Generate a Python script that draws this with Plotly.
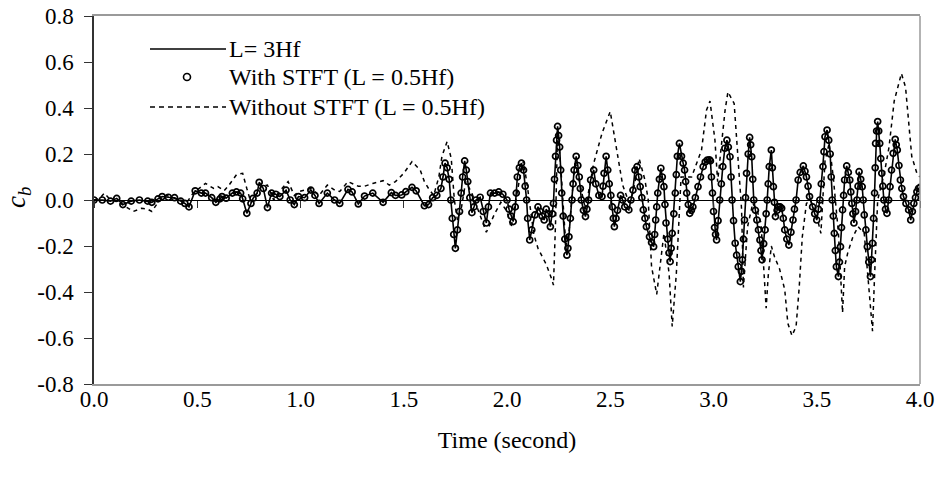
import plotly.graph_objects as go

# ---- data: (time s, c_b) ----
ref_quiet = [
    (0.00, 0.0), (0.04, 0.0), (0.08, -0.005), (0.11, 0.007), (0.14, -0.02), (0.18, -0.005), (0.22, 0.0),
    (0.26, -0.005), (0.28, -0.01), (0.31, 0.005), (0.33, 0.015), (0.36, 0.012), (0.39, 0.01), (0.42, -0.005),
    (0.44, -0.015), (0.46, -0.03), (0.49, 0.04), (0.52, 0.03), (0.54, 0.03), (0.57, 0.01), (0.59, -0.01),
    (0.61, 0.005), (0.62, 0.015), (0.64, 0.008), (0.67, 0.03), (0.69, 0.035), (0.71, 0.03), (0.72, 0.005),
    (0.74, -0.058), (0.76, -0.015), (0.77, 0.007), (0.79, 0.03), (0.80, 0.077), (0.82, 0.05), (0.84, -0.033),
    (0.86, 0.03), (0.88, 0.025), (0.90, 0.015), (0.93, 0.043), (0.95, 0.0), (0.97, -0.02), (0.99, 0.015),
    (1.02, 0.01), (1.05, 0.043), (1.07, 0.02), (1.09, -0.015), (1.13, 0.03), (1.165, 0.0), (1.19, -0.015),
    (1.23, 0.046), (1.25, 0.035), (1.28, -0.017), (1.31, 0.017), (1.35, 0.03), (1.40, -0.01), (1.44, 0.032),
    (1.46, 0.02), (1.49, 0.022), (1.51, 0.036), (1.54, 0.055), (1.56, 0.04), (1.60, -0.025), (1.62, -0.02),
    (1.64, 0.01),
]
ref_active = [
    (1.66, 0.02), (1.68, 0.05), (1.69, 0.10), (1.70, 0.16), (1.71, 0.14), (1.72, 0.09), (1.728, 0.0),
    (1.735, -0.08), (1.742, -0.15), (1.75, -0.21), (1.76, -0.13), (1.77, -0.05), (1.778, 0.03), (1.785, 0.10),
    (1.795, 0.17), (1.803, 0.13), (1.81, 0.08), (1.82, 0.01), (1.83, -0.055), (1.84, -0.03), (1.85, 0.0),
    (1.87, 0.012), (1.885, -0.05), (1.90, -0.10), (1.91, -0.03), (1.92, 0.03), (1.94, 0.03), (1.96, 0.035),
    (1.98, 0.025), (2.00, 0.0), (2.01, -0.04), (2.02, -0.07), (2.03, -0.094), (2.04, -0.03), (2.045, 0.03),
    (2.05, 0.10), (2.06, 0.14), (2.07, 0.16), (2.08, 0.13), (2.088, 0.06), (2.095, 0.0), (2.10, -0.08),
    (2.11, -0.174), (2.12, -0.13), (2.135, -0.065), (2.15, -0.03), (2.16, -0.05), (2.17, -0.07), (2.18, -0.087),
    (2.19, -0.04), (2.20, -0.06), (2.21, -0.116), (2.22, -0.06), (2.225, -0.015), (2.23, 0.09), (2.235, 0.19),
    (2.24, 0.26), (2.245, 0.32), (2.25, 0.28), (2.255, 0.23), (2.26, 0.13), (2.265, 0.03), (2.272, -0.07),
    (2.28, -0.17), (2.29, -0.24), (2.295, -0.21), (2.30, -0.16), (2.307, -0.08), (2.315, 0.0), (2.32, 0.07),
    (2.325, 0.13), (2.335, 0.19), (2.343, 0.15), (2.35, 0.10), (2.355, 0.05), (2.36, 0.0), (2.37, -0.045),
    (2.38, -0.072), (2.387, -0.04), (2.395, 0.0), (2.405, 0.087), (2.42, 0.13), (2.43, 0.07), (2.445, 0.02),
    (2.46, 0.015), (2.465, 0.06), (2.47, 0.116), (2.48, 0.19), (2.488, 0.13), (2.495, 0.07), (2.503, 0.02),
    (2.51, -0.03), (2.515, -0.08), (2.52, -0.116), (2.528, -0.08), (2.535, -0.045), (2.55, 0.02), (2.56, 0.0),
    (2.57, -0.03), (2.59, -0.043), (2.60, 0.0), (2.61, 0.043), (2.62, 0.13), (2.63, 0.145), (2.638, 0.10),
    (2.645, 0.058), (2.653, 0.01), (2.66, -0.043), (2.668, -0.08), (2.675, -0.116), (2.69, -0.16), (2.70, -0.185),
    (2.71, -0.203), (2.715, -0.15), (2.72, -0.087), (2.725, -0.03), (2.73, 0.03), (2.738, 0.09), (2.745, 0.138),
    (2.752, 0.10), (2.76, 0.058), (2.765, -0.02), (2.77, -0.10), (2.778, -0.17), (2.785, -0.23), (2.79, -0.268),
    (2.795, -0.21), (2.80, -0.145), (2.808, -0.06), (2.815, 0.03), (2.82, 0.11), (2.825, 0.19), (2.835, 0.246),
    (2.845, 0.19), (2.853, 0.16), (2.86, 0.13), (2.865, 0.08), (2.87, 0.03), (2.878, -0.02), (2.885, -0.058),
    (2.893, -0.045), (2.90, -0.03), (2.912, 0.01), (2.925, 0.058), (2.937, 0.10), (2.95, 0.145), (2.96, 0.165),
    (2.97, 0.174), (2.98, 0.175), (2.985, 0.17), (2.99, 0.10), (2.995, 0.03), (3.00, -0.05), (3.005, -0.12),
    (3.01, -0.15), (3.015, -0.174), (3.022, -0.09), (3.03, 0.0), (3.038, 0.07), (3.045, 0.145), (3.055, 0.225),
    (3.065, 0.26), (3.072, 0.23), (3.08, 0.188), (3.085, 0.10), (3.09, 0.0), (3.097, -0.09), (3.105, -0.188),
    (3.112, -0.24), (3.12, -0.29), (3.13, -0.355), (3.135, -0.31), (3.14, -0.26), (3.145, -0.17), (3.15, -0.087),
    (3.155, 0.01), (3.16, 0.116), (3.168, 0.20), (3.175, 0.272), (3.18, 0.24), (3.185, 0.188), (3.19, 0.09),
    (3.195, 0.0), (3.203, -0.045), (3.21, -0.087), (3.218, -0.13), (3.225, -0.174), (3.23, -0.22), (3.235, -0.26),
    (3.243, -0.19), (3.25, -0.13), (3.255, -0.06), (3.26, 0.0), (3.265, 0.07), (3.27, 0.145), (3.28, 0.217),
    (3.285, 0.14), (3.29, 0.058), (3.295, -0.01), (3.30, -0.072), (3.308, -0.045), (3.315, -0.03), (3.323, -0.03),
    (3.33, -0.036), (3.338, -0.08), (3.345, -0.13), (3.355, -0.17), (3.365, -0.196), (3.375, -0.14), (3.385, -0.087),
    (3.392, -0.04), (3.40, 0.0), (3.41, 0.087), (3.42, 0.12), (3.435, 0.148), (3.443, 0.125), (3.45, 0.10),
    (3.458, 0.06), (3.465, 0.015), (3.48, -0.03), (3.49, -0.06), (3.50, -0.087), (3.508, -0.04), (3.515, 0.0),
    (3.522, 0.07), (3.53, 0.145), (3.535, 0.21), (3.54, 0.275), (3.55, 0.304), (3.558, 0.26), (3.565, 0.20),
    (3.57, 0.10), (3.575, 0.0), (3.58, -0.07), (3.585, -0.145), (3.59, -0.22), (3.595, -0.29), (3.605, -0.333),
    (3.61, -0.27), (3.615, -0.203), (3.62, -0.12), (3.625, -0.043), (3.63, 0.02), (3.635, 0.087), (3.645, 0.148),
    (3.653, 0.12), (3.66, 0.087), (3.665, 0.035), (3.67, -0.015), (3.675, -0.06), (3.68, -0.10), (3.688, -0.05),
    (3.695, 0.0), (3.70, 0.06), (3.705, 0.123), (3.713, 0.09), (3.72, 0.058), (3.725, 0.0), (3.73, -0.065),
    (3.738, -0.13), (3.745, -0.203), (3.752, -0.27), (3.76, -0.333), (3.765, -0.26), (3.77, -0.188), (3.775, -0.08),
    (3.78, 0.03), (3.783, 0.14), (3.785, 0.246), (3.79, 0.30), (3.795, 0.341), (3.80, 0.30), (3.805, 0.246),
    (3.81, 0.18), (3.815, 0.116), (3.82, 0.06), (3.825, 0.0), (3.833, -0.04), (3.84, -0.058), (3.848, 0.0),
    (3.855, 0.058), (3.862, 0.13), (3.87, 0.203), (3.88, 0.264), (3.885, 0.24), (3.89, 0.217), (3.898, 0.15),
    (3.905, 0.087), (3.912, 0.05), (3.92, 0.015), (3.932, -0.015), (3.945, -0.043), (3.955, -0.087),
    (3.963, -0.05), (3.97, -0.015), (3.978, 0.01), (3.985, 0.036), (3.993, 0.05), (4.00, 0.055),
]

t_nostft = [0.00, 0.03, 0.05, 0.08, 0.12, 0.16, 0.19, 0.23, 0.26, 0.28, 0.31, 0.35, 0.40, 0.45, 0.48, 0.52,
            0.54, 0.58, 0.60, 0.63, 0.65, 0.69, 0.72, 0.74, 0.76, 0.79, 0.81, 0.84, 0.87, 0.90, 0.94, 0.97,
            0.99, 1.05, 1.09, 1.13, 1.17, 1.19, 1.23, 1.28, 1.31, 1.35, 1.40, 1.43, 1.46, 1.50, 1.54, 1.58,
            1.60, 1.62, 1.645, 1.67, 1.685, 1.71, 1.73, 1.745, 1.76, 1.78, 1.80, 1.83, 1.86, 1.90, 1.94, 1.97,
            2.00, 2.02, 2.06, 2.08, 2.10, 2.13, 2.15, 2.19, 2.215, 2.225, 2.235, 2.245, 2.26, 2.285, 2.30, 2.33,
            2.37, 2.38, 2.42, 2.44, 2.46, 2.50, 2.53, 2.56, 2.59, 2.61, 2.64, 2.668, 2.684, 2.70, 2.725, 2.745,
            2.76, 2.785, 2.80, 2.82, 2.835, 2.843, 2.894, 2.942, 2.966, 2.983, 3.007, 3.02, 3.056, 3.07, 3.10, 3.12,
            3.136, 3.145, 3.165, 3.19, 3.21, 3.23, 3.245, 3.255, 3.265, 3.28, 3.295, 3.32, 3.345, 3.36, 3.38, 3.40,
            3.415, 3.43, 3.45, 3.47, 3.50, 3.52, 3.54, 3.56, 3.58, 3.605, 3.625, 3.635, 3.65, 3.675, 3.70, 3.73,
            3.755, 3.77, 3.78, 3.795, 3.83, 3.85, 3.875, 3.91, 3.93, 3.945, 3.96, 3.985, 4.00]

cb_nostft = [0.0, 0.01, 0.03, 0.0, -0.01, -0.035, -0.05, -0.036, -0.04, -0.05, -0.01, 0.02, 0.005, -0.01, 0.03, 0.06,
             0.072, 0.05, 0.058, 0.04, 0.06, 0.11, 0.116, 0.05, -0.01, 0.03, 0.06, 0.065, 0.0, 0.04, 0.08, 0.02,
             0.036, 0.05, 0.02, 0.065, 0.04, 0.037, 0.08, 0.06, 0.06, 0.072, 0.084, 0.065, 0.08, 0.116, 0.167, 0.13,
             0.08, 0.05, 0.02, 0.10, 0.19, 0.254, 0.18, 0.0, -0.087, -0.03, 0.08, 0.03, -0.04, -0.14, -0.06, -0.01,
             -0.05, -0.12, 0.087, 0.17, 0.05, -0.15, -0.21, -0.28, -0.34, -0.37, -0.10, 0.30, 0.15, -0.20, -0.14, 0.17,
             0.0, -0.04, 0.16, 0.22, 0.29, 0.385, 0.23, 0.065, -0.01, 0.03, 0.18, 0.087, 0.0, -0.29, -0.41, -0.25,
             -0.145, -0.32, -0.55, -0.32, -0.04, 0.10, 0.10, 0.217, 0.39, 0.43, 0.26, 0.08, 0.39, 0.47, 0.42, 0.17,
             -0.04, -0.38, -0.116, -0.015, -0.043, -0.10, -0.30, -0.47, -0.33, -0.20, -0.246, -0.30, -0.39, -0.536, -0.59, -0.55,
             -0.38, -0.16, -0.015, 0.0, -0.07, -0.145, 0.17, 0.246, 0.10, -0.145, -0.49, -0.29, -0.23, -0.16, -0.116, -0.145,
             -0.41, -0.57, -0.33, 0.0, 0.13, 0.23, 0.43, 0.55, 0.49, 0.32, 0.19, 0.116, 0.10]

x_tickvals = [0.0, 0.5, 1.0, 1.5, 2.0, 2.5, 3.0, 3.5, 4.0]
x_ticktext = ["0.0", "0.5", "1.0", "1.5", "2.0", "2.5", "3.0", "3.5", "4.0"]
y_tickvals = [-0.8, -0.6, -0.4, -0.2, 0.0, 0.2, 0.4, 0.6, 0.8]
y_ticktext = ["-0.8", "-0.6", "-0.4", "-0.2", "0.0", "0.2", "0.4", "0.6", "0.8"]

legend_names = ["L= 3Hf", "With STFT (L = 0.5Hf)", "Without STFT (L = 0.5Hf)"]

ref_points = ref_quiet + ref_active
t_ref = [p[0] for p in ref_points]
cb_L3Hf = [p[1] for p in ref_points]
# With STFT (L = 0.5Hf) reproduces the reference curve
t_stft = t_ref
cb_stft = cb_L3Hf

FONT = "Liberation Serif, serif"
FS_TICK = 23
FS_TEXT = 24

fig = go.Figure()

fig.add_trace(go.Scatter(
    x=t_nostft, y=cb_nostft, mode="lines", name=legend_names[2],
    xaxis="x2", yaxis="y",
    line=dict(color="black", width=1.5, dash="4px,4px"), showlegend=False,
))
fig.add_trace(go.Scatter(
    x=t_ref, y=cb_L3Hf, mode="lines", name=legend_names[0],
    line=dict(color="black", width=1.6), showlegend=False,
))
fig.add_trace(go.Scatter(
    x=t_stft, y=cb_stft, mode="markers", name=legend_names[1],
    marker=dict(symbol="circle-open", size=6, color="black", line=dict(width=1.7, color="black")),
    showlegend=False,
))

W, H = 939, 482
L, R, T, B = 94, 19, 16, 98

fig.update_layout(
    width=W, height=H,
    margin=dict(l=L, r=R, t=T, b=B, pad=0, autoexpand=False),
    paper_bgcolor="white", plot_bgcolor="white",
    font=dict(family=FONT, size=FS_TICK, color="black"),
    xaxis=dict(
        range=[0, 4], tickvals=x_tickvals, ticktext=x_ticktext, automargin=False,
        showgrid=False, zeroline=False, showline=True, linecolor="#9a9a9a", linewidth=1.5,
        mirror=True, ticks="", ticklen=0, ticklabelstandoff=-6,
        tickfont=dict(family=FONT, size=FS_TICK),
        title=dict(text="Time (second)", font=dict(size=FS_TEXT, family=FONT), standoff=20),
    ),
    xaxis2=dict(
        range=[0, 4], matches="x", overlaying="x", anchor="free", position=0.5, automargin=False,
        tickvals=x_tickvals, showticklabels=False, showgrid=False, zeroline=False,
        showline=True, linecolor="black", linewidth=1, ticks="outside", ticklen=7,
        tickwidth=1, tickcolor="#333333",
    ),
    yaxis=dict(
        range=[-0.8, 0.8], tickvals=y_tickvals, ticktext=y_ticktext, automargin=False,
        showgrid=False, zeroline=False, showline=True, linecolor="#333333", linewidth=1.5,
        ticks="outside", ticklen=8, tickwidth=1, tickcolor="#333333", ticklabelstandoff=6,
        tickfont=dict(family=FONT, size=FS_TICK),
    ),
)

# right border of the frame
fig.add_shape(type="line", xref="paper", yref="paper", x0=1, x1=1, y0=0, y1=1,
              line=dict(color="#9a9a9a", width=1.5))

pw = W - L - R
ph = H - T - B
def px_x(x):
    return (x - L) / pw
def px_y(y):
    return (H - B - y) / ph

# y-axis title
fig.add_annotation(text="<i>c<sub>b</sub></i>", xref="paper", yref="paper",
                   x=px_x(18), y=px_y(198), textangle=-90, showarrow=False,
                   font=dict(size=27, family=FONT), xanchor="center", yanchor="middle")

# legend with long line samples as in the original
rows = [49, 77, 107]
fig.add_shape(type="line", xref="paper", yref="paper", x0=px_x(150), x1=px_x(226),
              y0=px_y(rows[0]), y1=px_y(rows[0]), line=dict(color="black", width=1.6))
fig.add_shape(type="circle", xref="paper", yref="paper", xsizemode="pixel", ysizemode="pixel",
              xanchor=px_x(187), yanchor=px_y(rows[1]), x0=-3.5, x1=3.5, y0=-3.5, y1=3.5,
              line=dict(color="black", width=1.6))
fig.add_shape(type="line", xref="paper", yref="paper", x0=px_x(150), x1=px_x(226),
              y0=px_y(rows[2]), y1=px_y(rows[2]), line=dict(color="black", width=1.5, dash="5px,4px"))
for name, ry in zip(legend_names, rows):
    fig.add_annotation(text=name, xref="paper", yref="paper", x=px_x(227), y=px_y(ry),
                       xanchor="left", yanchor="middle", showarrow=False,
                       font=dict(size=FS_TEXT, family=FONT))

fig.write_html("out.html")
